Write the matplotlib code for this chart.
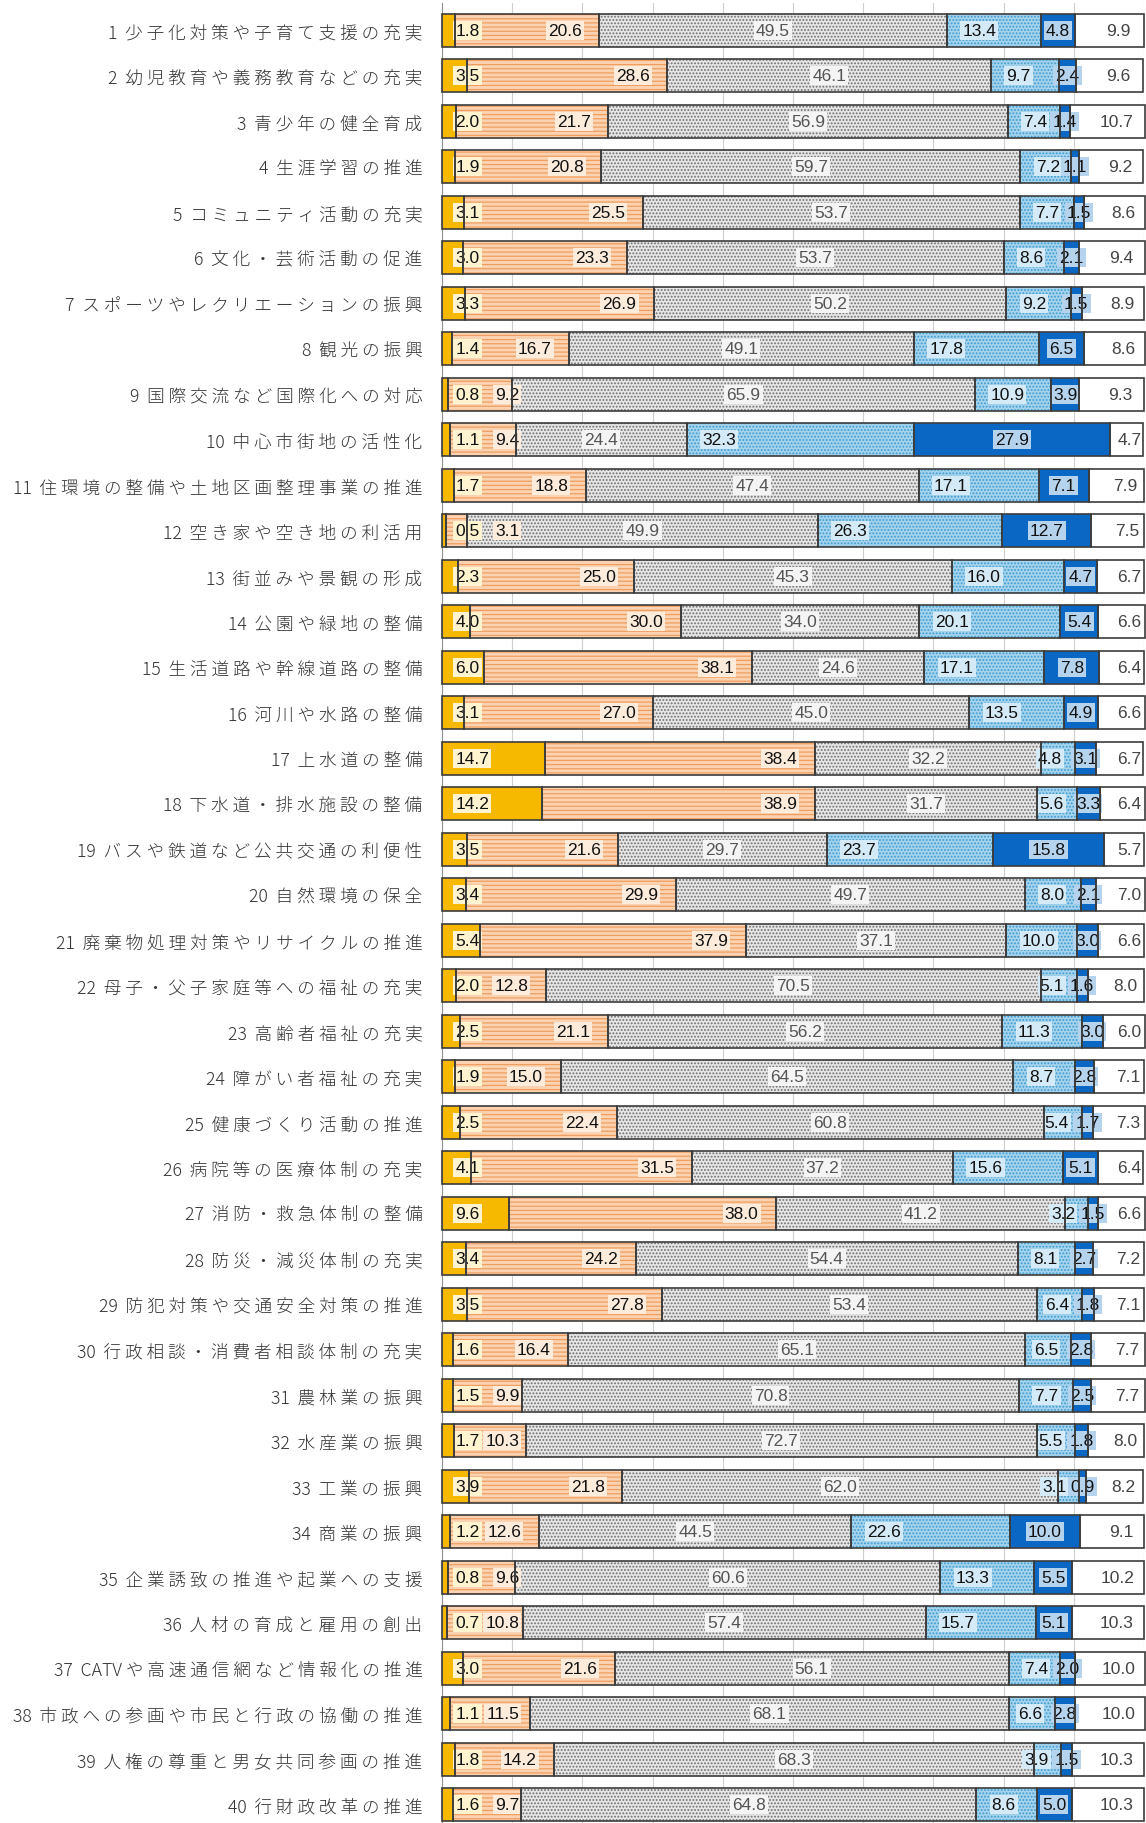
import matplotlib
matplotlib.use("Agg")
import matplotlib.pyplot as plt
import numpy as np

items = [
    "少子化対策や子育て支援の充実",
    "幼児教育や義務教育などの充実",
    "青少年の健全育成",
    "生涯学習の推進",
    "コミュニティ活動の充実",
    "文化・芸術活動の促進",
    "スポーツやレクリエーションの振興",
    "観光の振興",
    "国際交流など国際化への対応",
    "中心市街地の活性化",
    "住環境の整備や土地区画整理事業の推進",
    "空き家や空き地の利活用",
    "街並みや景観の形成",
    "公園や緑地の整備",
    "生活道路や幹線道路の整備",
    "河川や水路の整備",
    "上水道の整備",
    "下水道・排水施設の整備",
    "バスや鉄道など公共交通の利便性",
    "自然環境の保全",
    "廃棄物処理対策やリサイクルの推進",
    "母子・父子家庭等への福祉の充実",
    "高齢者福祉の充実",
    "障がい者福祉の充実",
    "健康づくり活動の推進",
    "病院等の医療体制の充実",
    "消防・救急体制の整備",
    "防災・減災体制の充実",
    "防犯対策や交通安全対策の推進",
    "行政相談・消費者相談体制の充実",
    "農林業の振興",
    "水産業の振興",
    "工業の振興",
    "商業の振興",
    "企業誘致の推進や起業への支援",
    "人材の育成と雇用の創出",
    "CATVや高速通信網など情報化の推進",
    "市政への参画や市民と行政の協働の推進",
    "人権の尊重と男女共同参画の推進",
    "行財政改革の推進",
]

satisfied = [1.8, 3.5, 2.0, 1.9, 3.1, 3.0, 3.3, 1.4, 0.8, 1.1, 1.7, 0.5, 2.3, 4.0, 6.0, 3.1, 14.7, 14.2, 3.5, 3.4,
             5.4, 2.0, 2.5, 1.9, 2.5, 4.1, 9.6, 3.4, 3.5, 1.6, 1.5, 1.7, 3.9, 1.2, 0.8, 0.7, 3.0, 1.1, 1.8, 1.6]
somewhat_satisfied = [20.6, 28.6, 21.7, 20.8, 25.5, 23.3, 26.9, 16.7, 9.2, 9.4, 18.8, 3.1, 25.0, 30.0, 38.1, 27.0, 38.4, 38.9, 21.6, 29.9,
                      37.9, 12.8, 21.1, 15.0, 22.4, 31.5, 38.0, 24.2, 27.8, 16.4, 9.9, 10.3, 21.8, 12.6, 9.6, 10.8, 21.6, 11.5, 14.2, 9.7]
neutral = [49.5, 46.1, 56.9, 59.7, 53.7, 53.7, 50.2, 49.1, 65.9, 24.4, 47.4, 49.9, 45.3, 34.0, 24.6, 45.0, 32.2, 31.7, 29.7, 49.7,
           37.1, 70.5, 56.2, 64.5, 60.8, 37.2, 41.2, 54.4, 53.4, 65.1, 70.8, 72.7, 62.0, 44.5, 60.6, 57.4, 56.1, 68.1, 68.3, 64.8]
somewhat_dissatisfied = [13.4, 9.7, 7.4, 7.2, 7.7, 8.6, 9.2, 17.8, 10.9, 32.3, 17.1, 26.3, 16.0, 20.1, 17.1, 13.5, 4.8, 5.6, 23.7, 8.0,
                         10.0, 5.1, 11.3, 8.7, 5.4, 15.6, 3.2, 8.1, 6.4, 6.5, 7.7, 5.5, 3.1, 22.6, 13.3, 15.7, 7.4, 6.6, 3.9, 8.6]
dissatisfied = [4.8, 2.4, 1.4, 1.1, 1.5, 2.1, 1.5, 6.5, 3.9, 27.9, 7.1, 12.7, 4.7, 5.4, 7.8, 4.9, 3.1, 3.3, 15.8, 2.1,
                3.0, 1.6, 3.0, 2.8, 1.7, 5.1, 1.5, 2.7, 1.8, 2.8, 2.5, 1.8, 0.9, 10.0, 5.5, 5.1, 2.0, 2.8, 1.5, 5.0]
no_answer = [9.9, 9.6, 10.7, 9.2, 8.6, 9.4, 8.9, 8.6, 9.3, 4.7, 7.9, 7.5, 6.7, 6.6, 6.4, 6.6, 6.7, 6.4, 5.7, 7.0,
             6.6, 8.0, 6.0, 7.1, 7.3, 6.4, 6.6, 7.2, 7.1, 7.7, 7.7, 8.0, 8.2, 9.1, 10.2, 10.3, 10.0, 10.0, 10.3, 10.3]

series = [satisfied, somewhat_satisfied, neutral, somewhat_dissatisfied, dissatisfied, no_answer]
face = ["#F7B900", "#FBD3B2", "#E6E6E6", "#A6D3EC", "#0A68C4", "#FFFFFF"]
hatches = [None, "----", ".....", ".....", None, None]
hatch_col = ["#F7B900", "#F09E60", "#707070", "#3E9CD3", "#0A68C4", "#FFFFFF"]
label_bg = ["#FFF3D0", "#FDEBDC", "#F4F4F4", "#D4EAF6", "#B6D3EE", "#FFFFFF"]
label_col = ["#111111", "#111111", "#555555", "#111111", "#111111", "#444444"]

plt.rcParams["hatch.linewidth"] = 0.9
num_font = ["Liberation Sans", "DejaVu Sans"]


def spaced(n, name):
    # letter-spaced japanese label like the original sheet
    out = ""
    for ch in name:
        if out and not (ch.isascii() and out[-1].isascii()):
            out += " "
        out += ch
    return f"{n}  " + out


fig = plt.figure(figsize=(11.46, 18.24), dpi=100)
ax = fig.add_axes([442 / 1146, 0.0, 702 / 1146, 1 - 4 / 1824])

y = np.arange(len(items))
h = 0.73
data = np.array(series)
lefts = np.vstack([np.zeros(len(items)), np.cumsum(data, axis=0)[:-1]])

for k in range(6):
    ax.barh(y, data[k], left=lefts[k], height=h, color=face[k], hatch=hatches[k],
            edgecolor=hatch_col[k], linewidth=0, zorder=2)
    ax.barh(y, data[k], left=lefts[k], height=h, fill=False, edgecolor="#3c3c3c",
            linewidth=1.2, zorder=5, clip_on=False)

# data labels
for i in range(len(items)):
    for k in range(6):
        v = data[k, i]
        s = lefts[k, i]
        e = s + v
        ha = "center"
        if k == 0:
            x, ha = 1.9, "left"
        elif k == 1:
            x, ha = max(e - 2.5, 11.0), "right"
        elif k == 2:
            x = s + v / 2
        elif k == 3:
            if v >= 7:
                x, ha = s + 2.2, "left"
            else:
                x, ha = e - 1.8, "right"
        elif k == 4:
            x = s + v / 2
        else:
            x = min(s + v / 2 + 1.3, 97.9)
        ax.text(x, i, f"{v:.1f}", ha=ha, va="center", fontsize=12.5, family=num_font,
                color=label_col[k], zorder=4,
                bbox=dict(boxstyle="square,pad=0.12", fc=label_bg[k], ec="none"))

ax.set_xlim(0, 100)
ax.set_ylim(len(items) - 0.6, -0.6)
ax.set_xticks(np.arange(0, 101, 10))
ax.tick_params(axis="x", length=0, labelbottom=False)
ax.grid(axis="x", color="#cfcfcf", linewidth=0.8, zorder=0)
ax.set_axisbelow(True)
ax.set_yticks(y)
ax.set_yticklabels([spaced(n + 1, s) for n, s in enumerate(items)],
                   family=["Noto Sans CJK JP", "DejaVu Sans"], fontsize=12.7,
                   fontweight="light", color="#333333")
ax.tick_params(axis="y", length=0, pad=14)
for side in ["top", "right", "bottom"]:
    ax.spines[side].set_visible(False)
ax.spines["left"].set_color("#909090")

fig.savefig("out.png", dpi=100)
